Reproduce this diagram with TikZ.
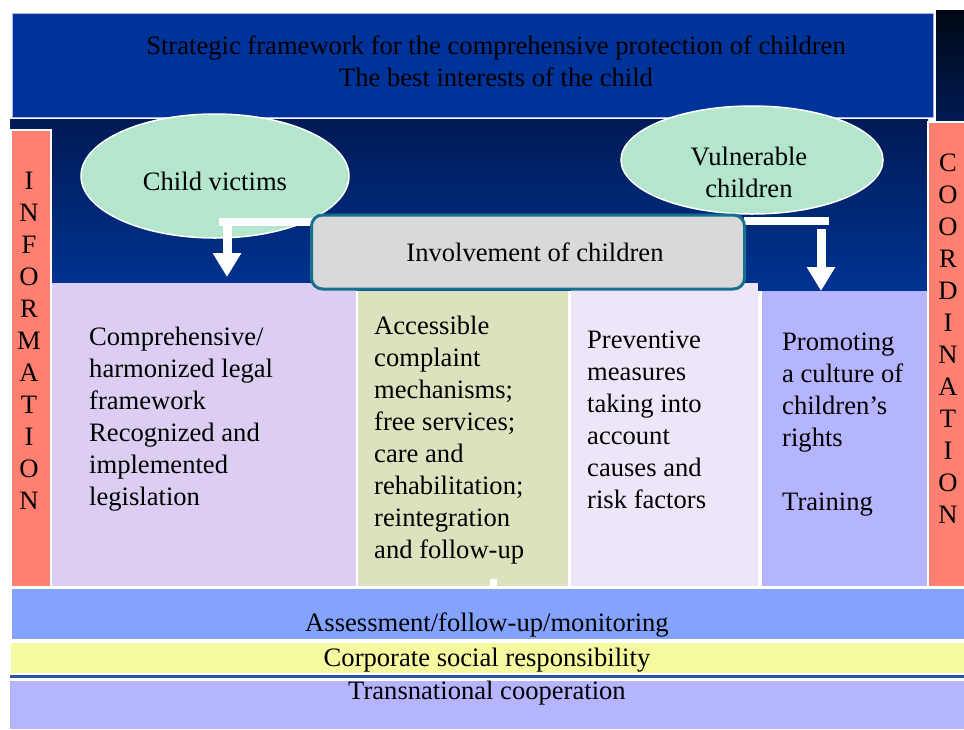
\documentclass[tikz,border=0pt]{standalone}
\usepackage{fontspec}
\setmainfont{Liberation Serif}
\usetikzlibrary{shapes.geometric,arrows.meta}
\definecolor{topblue}{HTML}{003399}
\definecolor{bandtop}{HTML}{001A55}
\definecolor{bandbot}{HTML}{003392}
\definecolor{stripdark}{HTML}{000814}
\definecolor{salmon}{HTML}{FF7F70}
\definecolor{mint}{HTML}{B3E6CC}
\definecolor{invgray}{HTML}{D9D9D9}
\definecolor{invteal}{HTML}{18708F}
\definecolor{boxlav}{HTML}{DCCEF2}
\definecolor{boxgreen}{HTML}{DCE2BE}
\definecolor{boxpale}{HTML}{EDE6F8}
\definecolor{boxperi}{HTML}{B4B4FF}
\definecolor{assessblue}{HTML}{84A3FF}
\definecolor{corpyellow}{HTML}{F5FAA0}
\definecolor{lineblue}{HTML}{2F55A8}
\definecolor{topborder}{HTML}{A8B8E8}
\tikzset{
  txt/.style={inner sep=0pt, font=\fontsize{26.6}{32}\selectfont},
  boxtxt/.style={txt, align=left, anchor=base west},
  vtxt/.style={txt, align=center, anchor=base},
  oval/.style={ellipse, draw=white, line width=1.5pt, fill=mint, inner sep=0pt},
  whitebar/.style={draw=white, line width=8.5pt},
  whitearrow/.style={draw=white, line width=9pt, -{Triangle[length=24pt,width=27pt]}, fill=white}
}
\begin{document}
\begin{tikzpicture}[x=1pt,y=-1pt]
\useasboundingbox (0,0) rectangle (964,729);
\fill[white] (0,0) rectangle (964,729);
% dark right strip at top
\shade[top color=stripdark, bottom color=bandtop] (936,10) rectangle (964,124);
% middle dark band
\shade[top color=bandtop, bottom color=bandbot] (10,119) rectangle (928,290);
% top box
\draw[fill=topblue, draw=topborder, line width=1pt] (12,13) rectangle (933,117);
\node[txt, align=center] (title) at (496,61) {Strategic framework for the comprehensive protection of children\\The best interests of the child};
% side boxes
\draw[fill=salmon, draw=white, line width=1.5pt] (11,130) rectangle (51,587);
\draw[fill=salmon, draw=white, line width=1.5pt] (928,122) rectangle (965,587);
\node[vtxt] (info) at (29,509) {I\\N\\F\\O\\R\\M\\A\\T\\I\\O\\N};
\node[vtxt] (coord) at (948,523) {C\\O\\O\\R\\D\\I\\N\\A\\T\\I\\O\\N};
% row of boxes
\fill[boxlav] (52,283) rectangle (356,586);
\fill[boxgreen] (358,291) rectangle (568,586);
\fill[boxpale] (571,283) rectangle (758,586);
\fill[boxperi] (762,291) rectangle (927,586);
\fill[white] (490,579) rectangle (497,587);
\node[boxtxt] (b1) at (89,505) {Comprehensive/\\harmonized legal\\framework\\Recognized and\\implemented\\legislation};
\node[boxtxt] (b2) at (374,558) {Accessible\\complaint\\mechanisms;\\free services;\\care and\\rehabilitation;\\reintegration\\and follow-up};
\node[boxtxt] (b3) at (587,508) {Preventive\\measures\\taking into\\account\\causes and\\risk factors};
\node[boxtxt] (b4) at (782,510) {Promoting\\a culture of\\children's\\rights\\[32pt]Training};
\coordinate (b1top) at (227,277);
\coordinate (b4top) at (821,291);
% ellipses
\node[oval, minimum width=268pt, minimum height=124pt] (cv) at (215,176) {};
\node[txt] (cvt) at (215,181) {Child victims};
\node[oval, minimum width=262pt, minimum height=108pt] (vc) at (752,160) {};
\node[txt, align=center] (vct) at (749,172) {Vulnerable\\children};
% connectors
\coordinate (lcorner) at (227,222);
\coordinate (rend) at (829,221);
\coordinate (rstart) at (821,229);
\draw[whitebar] (313,222) -- (219,222);
\draw[whitearrow] (lcorner) -- (b1top);
\draw[whitebar] (744,221) -- (rend);
\draw[whitearrow] (rstart) -- (b4top);
% involvement box
\node[draw=invteal, line width=3pt, rounded corners=11pt, fill=invgray, minimum width=433pt, minimum height=74pt, inner sep=0pt] (inv) at (528,252) {};
\node[txt] (invt) at (535,252) {Involvement of children};
% bottom bands
\fill[assessblue] (12,589) rectangle (964,639);
\node[txt] (assess) at (487,624.5) {Assessment/follow-up/monitoring};
\fill[corpyellow] (11,643) rectangle (964,673);
\node[txt] (corp) at (487,660) {Corporate social responsibility};
\fill[lineblue] (10,675) rectangle (964,678);
\fill[boxperi] (10,681) rectangle (964,729);
\node[txt] (trans) at (487,693) {Transnational cooperation};
\end{tikzpicture}
\end{document}
